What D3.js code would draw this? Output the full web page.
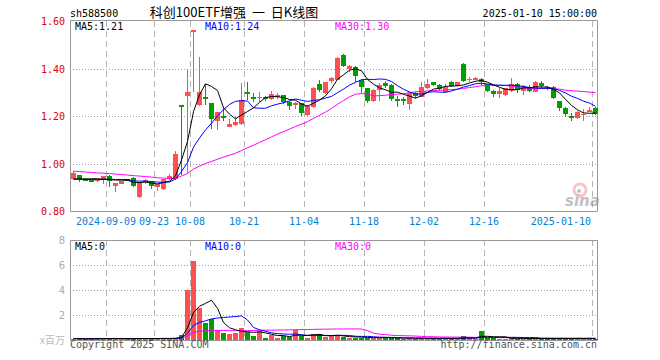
<!DOCTYPE html>
<html>
<head>
<meta charset="utf-8">
<script src="https://cdn.jsdelivr.net/npm/d3@7/dist/d3.min.js"></script>
<style>
  body { margin: 0; background: #fff; }
  svg { display: block; }
  text { font-family: "DejaVu Sans Mono", monospace; font-size: 10px; }
</style>
</head>
<body>
<svg id="kline" width="660" height="360"></svg>
<script>
// trading days shown on the chart
var dates = [
  "2024-08-30","2024-09-02","2024-09-03","2024-09-04","2024-09-05","2024-09-06",
  "2024-09-09","2024-09-10","2024-09-11","2024-09-12","2024-09-13","2024-09-18",
  "2024-09-19","2024-09-20","2024-09-23","2024-09-24","2024-09-25","2024-09-26",
  "2024-09-27","2024-09-30","2024-10-08","2024-10-09","2024-10-10","2024-10-11",
  "2024-10-14","2024-10-15","2024-10-16","2024-10-17","2024-10-18","2024-10-21",
  "2024-10-22","2024-10-23","2024-10-24","2024-10-25","2024-10-28","2024-10-29",
  "2024-10-30","2024-10-31","2024-11-01","2024-11-04","2024-11-05","2024-11-06",
  "2024-11-07","2024-11-08","2024-11-11","2024-11-12","2024-11-13","2024-11-14",
  "2024-11-15","2024-11-18","2024-11-19","2024-11-20","2024-11-21","2024-11-22",
  "2024-11-25","2024-11-26","2024-11-27","2024-11-28","2024-11-29","2024-12-02",
  "2024-12-03","2024-12-04","2024-12-05","2024-12-06","2024-12-09","2024-12-10",
  "2024-12-11","2024-12-12","2024-12-13","2024-12-16","2024-12-17","2024-12-18",
  "2024-12-19","2024-12-20","2024-12-23","2024-12-24","2024-12-25","2024-12-26",
  "2024-12-27","2024-12-30","2024-12-31","2025-01-02","2025-01-03","2025-01-06",
  "2025-01-07","2025-01-08","2025-01-09","2025-01-10"
];

var open = [
  0.935,0.950,0.936,0.930,0.929,0.929, 0.949,0.906,0.915,0.933,0.940,0.857,
  0.921,0.926,0.902,0.891,0.933,0.935, 1.245,1.284,1.555,1.246,1.281,1.253,
  1.179,1.200,1.155,1.162,1.166,1.302, 1.278,1.278,1.281,1.270,1.285,1.288,
  1.257,1.246,1.253,1.204,1.239,1.333, 1.296,1.347,1.352,1.457,1.396,1.408,
  1.352,1.317,1.263,1.309,1.338,1.331, 1.272,1.272,1.250,1.298,1.281,1.318,
  1.342,1.330,1.302,1.345,1.328,1.420, 1.352,1.356,1.356,1.333,1.307,1.293,
  1.288,1.307,1.335,1.307,1.324,1.302, 1.338,1.322,1.323,1.263,1.232,1.199,
  1.190,1.208,1.222,1.232
];
var high = [
  0.970,0.952,0.938,0.934,0.936,0.949, 0.950,0.919,0.928,0.936,0.942,0.921,
  0.933,0.928,0.913,0.935,0.955,1.052, 1.245,1.400,1.561,1.450,1.333,1.255,
  1.218,1.237,1.187,1.201,1.340,1.345, 1.296,1.302,1.283,1.305,1.295,1.290,
  1.262,1.260,1.256,1.246,1.322,1.351, 1.345,1.365,1.447,1.462,1.415,1.412,
  1.355,1.319,1.315,1.338,1.348,1.333, 1.283,1.280,1.300,1.302,1.344,1.356,
  1.345,1.336,1.335,1.347,1.345,1.422, 1.366,1.366,1.361,1.336,1.310,1.319,
  1.320,1.361,1.338,1.330,1.330,1.347, 1.347,1.326,1.326,1.265,1.238,1.211,
  1.221,1.230,1.236,1.236
];
var low = [
  0.933,0.922,0.926,0.925,0.924,0.912, 0.902,0.878,0.912,0.925,0.900,0.855,
  0.912,0.891,0.884,0.889,0.930,0.930, 0.950,0.960,1.300,1.244,1.246,1.144,
  1.141,1.179,1.153,1.160,1.162,1.267, 1.260,1.260,1.265,1.268,1.272,1.252,
  1.225,1.228,1.201,1.201,1.235,1.302, 1.294,1.340,1.350,1.405,1.385,1.344,
  1.298,1.253,1.258,1.262,1.318,1.263, 1.240,1.245,1.225,1.275,1.279,1.314,
  1.325,1.306,1.298,1.322,1.325,1.345, 1.345,1.350,1.330,1.302,1.281,1.274,
  1.285,1.302,1.295,1.288,1.300,1.300, 1.316,1.310,1.272,1.221,1.197,1.179,
  1.188,1.178,1.215,1.205
];
var close = [
  0.960,0.933,0.927,0.929,0.931,0.948, 0.926,0.918,0.926,0.929,0.905,0.919,
  0.930,0.905,0.912,0.933,0.947,1.040, 1.243,1.302,1.561,1.302,1.270,1.187,
  1.218,1.198,1.165,1.173,1.267,1.291, 1.276,1.281,1.271,1.291,1.287,1.257,
  1.243,1.254,1.211,1.242,1.319,1.309, 1.342,1.361,1.443,1.410,1.410,1.368,
  1.322,1.262,1.309,1.331,1.328,1.270, 1.265,1.262,1.295,1.283,1.321,1.335,
  1.331,1.315,1.322,1.326,1.342,1.349, 1.356,1.359,1.342,1.307,1.291,1.305,
  1.317,1.333,1.309,1.328,1.305,1.342, 1.326,1.312,1.274,1.232,1.207,1.198,
  1.218,1.210,1.225,1.208
];
// closes of the 29 sessions before the window (for the moving averages)
var priorClose = [
  0.990,0.985,0.980,0.990,0.985,0.975,0.980,0.990,0.985,0.980,0.975,0.985,0.980,0.990,0.985,0.980,
  0.995,0.990,0.985,0.990,
  0.940,0.935,0.930,0.935,0.930,0.925,0.930,0.925,0.930
];
// volume, millions
var volume = [
  0.12,0.10,0.08,0.10,0.12,0.15, 0.12,0.10,0.10,0.12,0.10,0.15,
  0.12,0.10,0.12,0.15,0.12,0.20, 0.40,4.00,6.30,2.60,1.35,1.65,
  0.80,0.60,0.48,0.60,0.95,0.68, 0.33,0.72,0.18,0.38,0.18,0.32,
  0.28,0.78,0.32,0.15,0.52,0.48, 0.27,0.30,0.32,0.27,0.18,0.18,
  0.20,0.20,0.20,0.16,0.20,0.15, 0.14,0.12,0.15,0.12,0.14,0.12,
  0.14,0.12,0.15,0.12,0.12,0.32, 0.14,0.12,0.75,0.15,0.14,0.12,
  0.12,0.14,0.12,0.12,0.10,0.12, 0.12,0.10,0.14,0.12,0.12,0.10,
  0.12,0.10,0.12,0.10
];

var tickDates = ["2024-09-09","2024-09-23","2024-10-08","2024-10-21","2024-11-04",
                 "2024-11-18","2024-12-02","2024-12-16","2025-01-10"];
var tickLabels = ["2024-09-09","09-23","10-08","10-21","11-04","11-18","12-02","12-16","2025-01-10"];
var priceTicks = [0.8, 1.0, 1.2, 1.4, 1.6];
var volTicks = [2, 4, 6, 8];

var upColor = "#ff5050", downColor = "#009f00";
var maColors = {5: "#000000", 10: "#0000ff", 30: "#ff00ff"};

var L = 70, R = 597;
var svg = d3.select("#kline");

var x = d3.scaleBand().domain(dates).range([L, R]).paddingInner(1 / 6).paddingOuter(0);
var y = d3.scaleLinear().domain([0.8, 1.6]).range([211, 21]);
var yv = d3.scaleLinear().domain([0, 8]).range([340, 240]);

var bars = dates.map(function (d, i) {
  return {date: d, o: open[i], h: high[i], l: low[i], c: close[i], v: volume[i]};
});
function isUp(b) { return b.c >= b.o; }

// moving averages
function ma(series, n, prior) {
  var all = prior.concat(series), off = prior.length;
  return series.map(function (v, i) {
    var end = i + off + 1, start = Math.max(0, end - n);
    return d3.mean(all.slice(start, end));
  });
}
var priceMA = {}, volMA = {};
[5, 10, 30].forEach(function (n) {
  priceMA[n] = ma(close, n, priorClose);
  volMA[n] = ma(volume, n, []);
});

// header
svg.append("text").attr("x", 70).attr("y", 17).text("sh588500");
svg.append("text").attr("x", 234).attr("y", 17).attr("text-anchor", "middle")
  .style("font-family", "'Noto Sans CJK SC', sans-serif").style("font-size", "13px")
  .style("white-space", "pre")
  .text("科创100ETF增强  一  日K线图");
svg.append("text").attr("x", 597).attr("y", 17).attr("text-anchor", "end").text("2025-01-10 15:00:00");

// grids
var grid = svg.append("g");
tickDates.forEach(function (d) {
  var gx = Math.round(x(d)) + 0.5;
  [[21, 211], [240, 340]].forEach(function (r) {
    grid.append("line").attr("x1", gx).attr("x2", gx).attr("y1", r[0]).attr("y2", r[1])
      .attr("stroke", "#b4b4b4").attr("stroke-dasharray", "6,4");
  });
});
[1.0, 1.2, 1.4].forEach(function (v) {
  var gy = Math.round(y(v)) + 0.5;
  grid.append("line").attr("x1", L).attr("x2", R).attr("y1", gy).attr("y2", gy)
    .attr("stroke", "#a0a0a0").attr("stroke-dasharray", "1,2");
});
[2, 4, 6].forEach(function (v) {
  var gy = Math.round(yv(v)) + 0.5;
  grid.append("line").attr("x1", L).attr("x2", R).attr("y1", gy).attr("y2", gy)
    .attr("stroke", "#a0a0a0").attr("stroke-dasharray", "1,2");
});

// frames
svg.append("path").attr("fill", "none").attr("stroke", "#999")
  .attr("d", "M70.5,20.5H597.5V211.5H70.5Z");
svg.append("path").attr("fill", "none").attr("stroke", "#999")
  .attr("d", "M70.5,240.5H597.5V340.5H70.5Z");

// sina watermark
var wm = svg.append("g").attr("opacity", 0.6);
wm.append("circle").attr("cx", 580).attr("cy", 190).attr("r", 6).attr("fill", "none")
  .attr("stroke", "#f4a0a0").attr("stroke-width", 3);
wm.append("circle").attr("cx", 579).attr("cy", 191).attr("r", 2).attr("fill", "#999");
wm.append("text").attr("x", 565).attr("y", 206).text("sina")
  .style("font-family", "'DejaVu Sans', sans-serif").style("font-size", "15px")
  .style("font-weight", "bold").style("font-style", "italic").attr("fill", "#999");

// price labels
svg.append("g").selectAll("text").data(priceTicks).enter().append("text")
  .attr("x", 65).attr("y", function (d) { return y(d) + 4; })
  .attr("text-anchor", "end").attr("fill", "#e00000")
  .text(function (d) { return d.toFixed(2); });

// date labels
svg.append("g").selectAll("text").data(tickDates).enter().append("text")
  .attr("x", function (d, i) { return i === tickDates.length - 1 ? x(d) - 1 : x(d); })
  .attr("y", 225)
  .attr("text-anchor", function (d, i) { return i === tickDates.length - 1 ? "end" : "middle"; })
  .attr("fill", "#0a7fd6")
  .text(function (d, i) { return tickLabels[i]; });

// candles
var bw = x.bandwidth();
var cg = svg.append("g").attr("shape-rendering", "crispEdges");
cg.selectAll("line").data(bars).enter().append("line")
  .attr("x1", function (d) { return Math.round(x(d.date) + bw / 2) + 0.5; })
  .attr("x2", function (d) { return Math.round(x(d.date) + bw / 2) + 0.5; })
  .attr("y1", function (d) { return y(d.h); })
  .attr("y2", function (d) { return y(d.l); })
  .attr("stroke", function (d) { return isUp(d) ? upColor : downColor; });
cg.selectAll("rect").data(bars).enter().append("rect")
  .attr("x", function (d) { return Math.round(x(d.date)) + 1; })
  .attr("width", bw)
  .attr("y", function (d) { return y(Math.max(d.o, d.c)); })
  .attr("height", function (d) { return Math.max(1.5, Math.abs(y(d.o) - y(d.c))); })
  .attr("fill", function (d) { return isUp(d) ? upColor : downColor; });

// volume bars
svg.append("g").attr("shape-rendering", "crispEdges")
  .selectAll("rect").data(bars).enter().append("rect")
  .attr("x", function (d) { return Math.round(x(d.date)) + 1; })
  .attr("width", bw)
  .attr("y", function (d) { return yv(d.v); })
  .attr("height", function (d) { return yv(0) - yv(d.v); })
  .attr("fill", function (d) { return isUp(d) ? upColor : downColor; });

// moving average lines
var cx = function (i) { return x(dates[i]) + bw / 2 + 1; };
[30, 10, 5].forEach(function (n) {
  svg.append("path").datum(priceMA[n]).attr("fill", "none")
    .attr("stroke", maColors[n]).attr("stroke-width", 1)
    .attr("d", d3.line().x(function (d, i) { return cx(i); }).y(function (d) { return y(d); }));
  svg.append("path").datum(volMA[n]).attr("fill", "none")
    .attr("stroke", maColors[n]).attr("stroke-width", 1)
    .attr("d", d3.line().x(function (d, i) { return cx(i); }).y(function (d) { return yv(d); }));
});

// MA legends
var last = dates.length - 1;
[[5, 75], [10, 205], [30, 335]].forEach(function (p) {
  svg.append("text").attr("x", p[1]).attr("y", 29.5).attr("fill", maColors[p[0]])
    .text("MA" + p[0] + ":" + priceMA[p[0]][last].toFixed(2));
  svg.append("text").attr("x", p[1]).attr("y", 249.5).attr("fill", maColors[p[0]])
    .text("MA" + p[0] + ":" + Math.round(volMA[p[0]][last]));
});

// volume labels
svg.append("g").selectAll("text").data(volTicks).enter().append("text")
  .attr("x", 65).attr("y", function (d) { return yv(d) + 4; })
  .attr("text-anchor", "end").attr("fill", "#aaa")
  .style("font-family", "'DejaVu Sans', sans-serif").style("font-size", "10px")
  .text(function (d) { return d; });
svg.append("text").attr("x", 65).attr("y", 344).attr("text-anchor", "end").attr("fill", "#bbb")
  .style("font-family", "'Noto Sans CJK SC', sans-serif").style("font-size", "10px").text("x百万");

// footer
svg.append("text").attr("x", 70).attr("y", 348).attr("fill", "#555").text("Copyright 2025 SINA.COM");
svg.append("text").attr("x", 597).attr("y", 348).attr("text-anchor", "end").attr("fill", "#555")
  .text("http://finance.sina.com.cn");
</script>
</body>
</html>
